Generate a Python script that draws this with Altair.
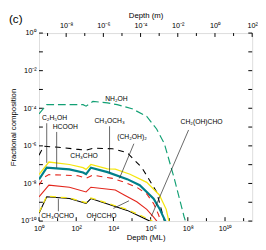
import altair as alt
import pandas as pd

W, H = 220, 194

# ---------------- curves: x = depth (ML), y = fractional composition ----------------
nh2oh_x = [1, 2.6, 234, 339, 794, 4.8e3, 1.6e4, 1.0e5, 6.2e5, 2.1e6, 5.5e6, 1.8e7, 6.2e7, 8.0e7]
nh2oh_y = [5.0e-5, 1.55e-4, 1.55e-4, 1.29e-4, 2.3e-4, 1.95e-4, 1.55e-4, 9.5e-5, 3.7e-5, 7.9e-6, 1.3e-6, 2.1e-8, 1.8e-10, 7.9e-11]

ch3cho_x = [1, 1.8, 11, 126, 339, 794, 8.9e3, 5.5e4, 3.4e5, 2.1e6, 5.5e6, 6.5e6]
ch3cho_y = [3.2e-7, 9.5e-7, 8.5e-7, 6.5e-7, 5.8e-7, 7.5e-7, 7.0e-7, 4.3e-7, 6.9e-8, 3.55e-9, 1.0e-10, 7.0e-11]

c2h5oh_x = [1, 3.4, 43, 234, 339, 617, 4.8e3, 1.26e4, 7.8e4, 6.2e5, 2.95e6, 6.9e6, 1.0e7]
c2h5oh_y = [2.95e-8, 1.38e-7, 1.02e-7, 6.9e-8, 5.6e-8, 1.02e-7, 6.0e-8, 5.75e-8, 3.1e-8, 1.15e-8, 2.45e-9, 4.2e-10, 7.9e-11]

hcooh_x = [1, 2.6, 43, 234, 339, 617, 4.8e3, 5.5e4, 2.6e5, 1.45e6, 2.95e6, 6.9e6]
hcooh_y = [1.66e-8, 6.9e-8, 5.6e-8, 3.8e-8, 3.1e-8, 6.9e-8, 4.0e-8, 1.7e-8, 8.1e-9, 1.55e-9, 4.7e-10, 7.9e-11]

ch2oh2_x = [1, 1.8, 3.4, 126, 339, 794, 8.9e3, 2.95e4, 1.8e5, 6.2e5, 1.45e6, 2.6e6, 3.8e6]
ch2oh2_y = [8.1e-9, 2.1e-8, 2.95e-8, 2.6e-8, 1.86e-8, 2.8e-8, 1.86e-8, 1.29e-8, 6.3e-9, 2.75e-9, 8.5e-10, 2.3e-10, 7.9e-11]

ch3och3_x = [1, 3.4, 43, 339, 617, 1.26e4, 3.8e4, 1.8e5, 6.2e5, 1.45e6, 2.6e6]
ch3och3_y = [1.95e-9, 8.1e-9, 6.3e-9, 3.55e-9, 6.3e-9, 4.5e-9, 2.45e-9, 1.07e-9, 4.2e-10, 1.6e-10, 7.9e-11]

ohccho_x = [1, 2.6, 43, 339, 617, 1.26e4, 5.5e4, 2.6e5, 8.9e5, 1.45e6]
ohccho_y = [2.6e-10, 1.95e-9, 1.58e-9, 8.7e-10, 1.58e-9, 5.9e-10, 3.7e-10, 1.8e-10, 1.0e-10, 7.0e-11]

ch3ocho_x = [1, 2.6, 43, 339, 617, 1.26e4, 5.5e4, 2.6e5, 8.9e5, 2.1e6]
ch3ocho_y = [2.9e-10, 2.1e-9, 1.7e-9, 9.5e-10, 1.7e-9, 6.5e-10, 4.1e-10, 2.1e-10, 1.2e-10, 7.0e-11]

# name, x, y, colour, dash, width (drawing order)
series = [
    ("NH2OH", nh2oh_x, nh2oh_y, "#12a074", [8, 4], 1.2),
    ("CH3CHO", ch3cho_x, ch3cho_y, "#000000", [6, 5], 1.1),
    ("C2H5OH", c2h5oh_x, c2h5oh_y, "#f5e60f", [], 1.3),
    ("HCOOH", hcooh_x, hcooh_y, "#00808a", [], 2.2),
    ("(CH2OH)2", ch2oh2_x, ch2oh2_y, "#e3261c", [6, 5], 1.1),
    ("CH3OCH3", ch3och3_x, ch3och3_y, "#e3261c", [], 1.1),
    ("OHCCHO", ohccho_x, ohccho_y, "#000000", [], 1.1),
    ("CH3OCHO", ch3ocho_x, ch3ocho_y, "#f5e60f", [6, 5], 1.3),
]

rows = []
for name, xs, ys, *_ in series:
    for a, b in zip(xs, ys):
        rows.append({"s": name, "ml": a, "frac": b})
df = pd.DataFrame(rows)

# ---------------- labels and leader lines ----------------
lab_text = ["NH₂OH", "C₂H₅OH", "HCOOH", "CH₃CHO", "CH₃OCH₃", "(CH₂OH)₂", "CH₂(OH)CHO", "CH₃OCHO", "OHCCHO"]
lab_x = [1.45e4, 6.9, 26, 265, 6.2e3, 1.0e5, 5.5e8, 10, 2.3e3]
lab_y = [3.1e-4, 2.9e-5, 1.0e-5, 3.0e-7, 2.0e-5, 3.0e-6, 1.8e-5, 1.8e-10, 1.8e-10]

seg_x1 = [2.6, 8.9, 6.2e3, 1.26e5, 1.1e8, 11, 1.0e4]
seg_y1 = [1.6e-5, 5.5e-6, 1.1e-5, 1.3e-6, 7.0e-6, 1.55e-9, 4.7e-10]
seg_x2 = [2.6, 8.9, 6.2e3, 2.1e4, 1.1e6, 11, 6.9e4]
seg_y2 = [1.25e-7, 6.9e-8, 3.8e-8, 1.86e-8, 1.8e-10, 3.3e-10, 1.2e-9]

# ---------------- ticks ----------------
ml_major = [1, 1e2, 1e4, 1e6, 1e8, 1e10]
ml_minor = [1e1, 1e3, 1e5, 1e7, 1e9, 1e11]
m_major = [1e-8, 1e-6, 1e-4, 1e-2, 1, 1e2]
m_minor = [1e-9, 1e-7, 1e-5, 1e-3, 1e-1, 1e1]
y_major = [1e-10, 1e-8, 1e-6, 1e-4, 1e-2, 1]
y_all = [1e-10, 1e-9, 1e-8, 1e-7, 1e-6, 1e-5, 1e-4, 1e-3, 1e-2, 1e-1, 1]

ML_DOM = [1, 10 ** 11.46]
M_DOM = [10 ** -9.46, 100]
Y_DOM = [1e-10, 1]

SUP = {"-": "⁻", "0": "⁰", "1": "¹", "2": "²", "3": "³", "4": "⁴", "5": "⁵",
       "6": "⁶", "7": "⁷", "8": "⁸", "9": "⁹"}


def sup_expr(exps):
    expr = "''"
    for e in exps:
        s = "10" + "".join(SUP[c] for c in str(e))
        expr = f"round(log(datum.value)/LN10) == {e} ? '{s}' : ({expr})"
    return expr


FONT = "Liberation Sans"

xs_ml = alt.Scale(type="log", domain=ML_DOM)
ys = alt.Scale(type="log", domain=Y_DOM)
ms = alt.Scale(type="log", domain=M_DOM)

common = dict(ticks=False, domain=False, grid=False, labelFlush=False, labelOverlap=False,
              labelFont=FONT, titleFont=FONT, labelColor="black", titleColor="black",
              titleFontWeight="normal", labelFontSize=7.5, titleFontSize=8)

x_axis = alt.Axis(values=ml_major, labelExpr=sup_expr([0, 2, 4, 6, 8, 10]), title="Depth (ML)",
                  orient="bottom", labelPadding=4, titlePadding=2, **common)
y_axis = alt.Axis(values=y_major, labelExpr=sup_expr([-10, -8, -6, -4, -2, 0]),
                  title="Fractional composition", orient="left", labelPadding=3, titlePadding=2,
                  **common)
top_axis = alt.Axis(values=m_major, labelExpr=sup_expr([-8, -6, -4, -2, 0, 2]), title="Depth (m)",
                    orient="top", labelPadding=4, titlePadding=2, **common)


def X(field, axis=None, scale=xs_ml):
    return alt.X(field, type="quantitative", scale=scale, axis=axis)


def Y(field, axis=None):
    return alt.Y(field, type="quantitative", scale=ys, axis=axis)


layers = []

# bottom ticks (carry the bottom axis)
layers.append(
    alt.Chart(pd.DataFrame({"v": ml_major})).mark_rule(color="black", strokeWidth=1)
    .encode(x=X("v", x_axis), y=alt.value(H), y2=alt.value(H - 4))
)
layers.append(
    alt.Chart(pd.DataFrame({"v": ml_minor})).mark_rule(color="black", strokeWidth=1)
    .encode(x=X("v"), y=alt.value(H), y2=alt.value(H - 3))
)
# left / right ticks (left carries the y axis)
layers.append(
    alt.Chart(pd.DataFrame({"v": y_all})).mark_rule(color="black", strokeWidth=1)
    .encode(y=Y("v", y_axis), x=alt.value(0), x2=alt.value(4))
)
layers.append(
    alt.Chart(pd.DataFrame({"v": y_all})).mark_rule(color="black", strokeWidth=1)
    .encode(y=Y("v"), x=alt.value(W), x2=alt.value(W - 4))
)
# top ticks (carry the top axis, depth in m)
layers.append(
    alt.Chart(pd.DataFrame({"v": m_major})).mark_rule(color="black", strokeWidth=1)
    .encode(x=X("v", top_axis, ms), y=alt.value(0), y2=alt.value(4))
)
layers.append(
    alt.Chart(pd.DataFrame({"v": m_minor})).mark_rule(color="black", strokeWidth=1)
    .encode(x=X("v", None, ms), y=alt.value(0), y2=alt.value(3))
)

for name, xs_, ys_, col, dash, sw in series:
    mk = dict(color=col, strokeWidth=sw, clip=True)
    if dash:
        mk["strokeDash"] = dash
    layers.append(
        alt.Chart(df).transform_filter(alt.datum.s == name).mark_line(**mk)
        .encode(x=X("ml"), y=Y("frac"))
    )

seg_df = pd.DataFrame({"x1": seg_x1, "y1": seg_y1, "x2": seg_x2, "y2": seg_y2})
layers.append(
    alt.Chart(seg_df).mark_rule(color="#222222", strokeWidth=0.7)
    .encode(x=X("x1"), y=Y("y1"), x2="x2:Q", y2="y2:Q")
)
lab_df = pd.DataFrame({"t": lab_text, "x": lab_x, "y": lab_y})
layers.append(
    alt.Chart(lab_df).mark_text(font=FONT, fontSize=7, color="black", align="center", baseline="middle")
    .encode(x=X("x"), y=Y("y"), text="t:N")
)

# panel letter
layers.append(
    alt.Chart(pd.DataFrame({"t": ["(c)"]})).mark_text(font=FONT, fontSize=12, align="left", baseline="middle")
    .encode(text="t:N", x=alt.value(-31), y=alt.value(-14))
)

chart = (
    alt.layer(*layers)
    .resolve_scale(x="independent", y="independent")
    .properties(width=W, height=H, autosize=alt.AutoSizeParams(type="none"),
                padding={"left": 32, "top": 22, "right": 6, "bottom": 26})
    .configure_view(stroke="black", strokeWidth=1)
    .configure(background="white")
)

chart.save("out.html", embed_options={"renderer": "svg", "actions": False})
